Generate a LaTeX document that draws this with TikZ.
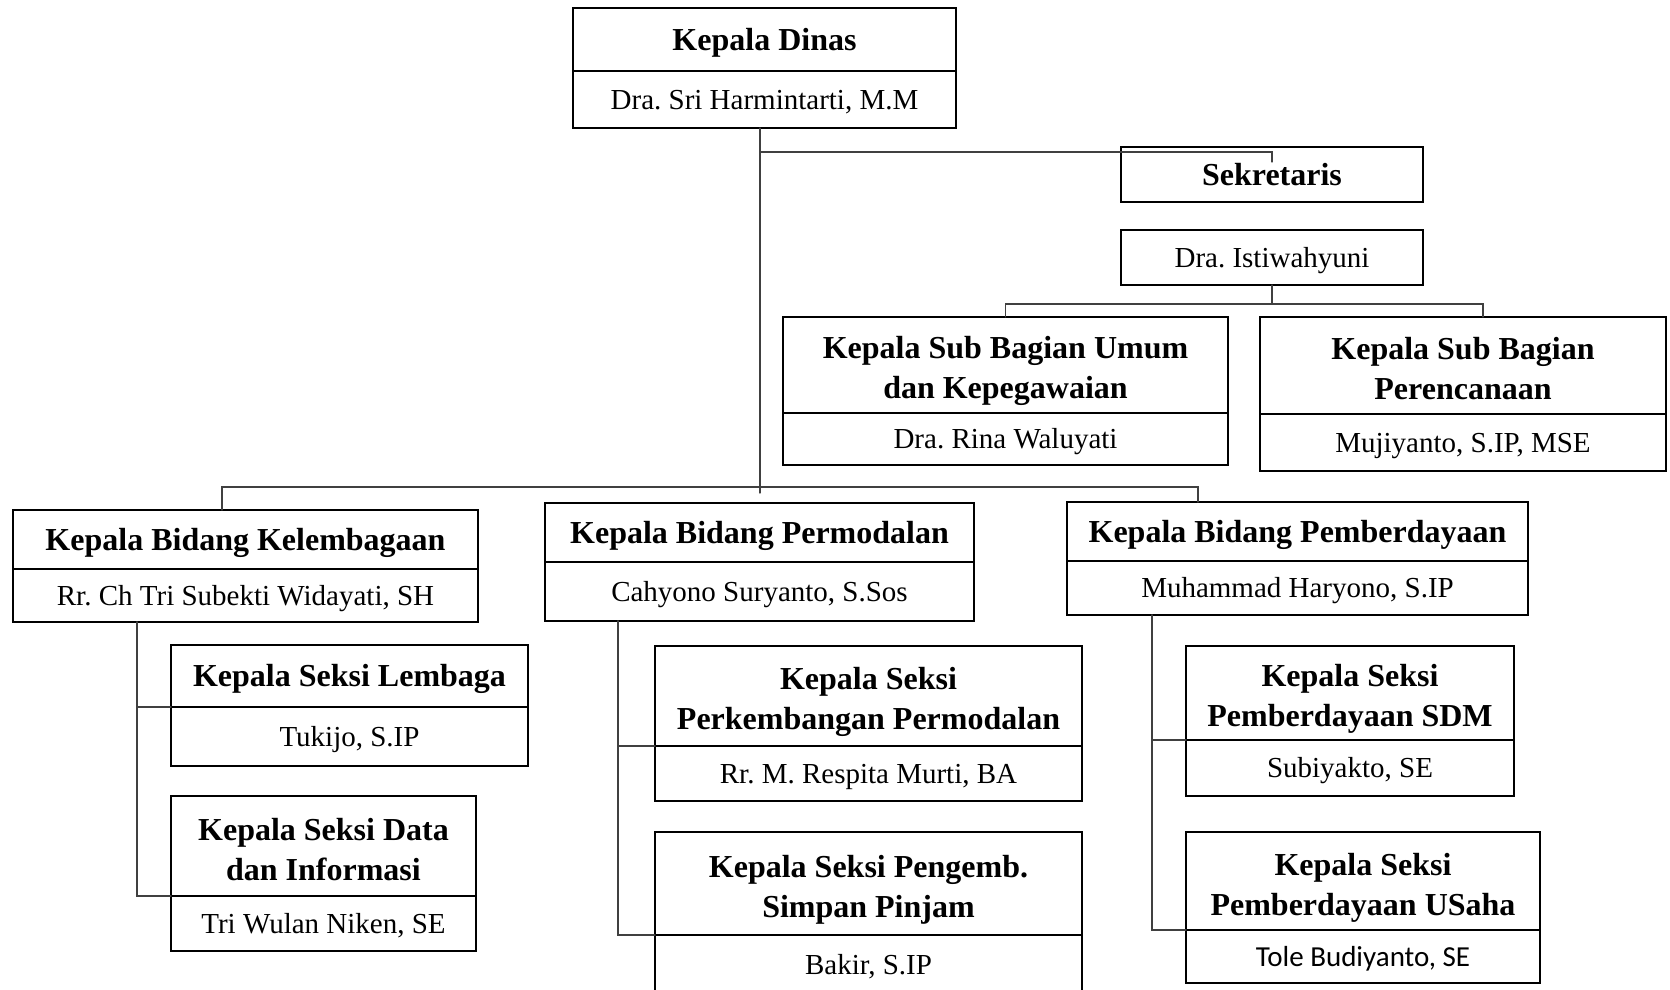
\documentclass[tikz,border=0pt]{standalone}
\usepackage{fontspec}
\usepackage{tikz}
\usetikzlibrary{positioning}
\setmainfont{Liberation Serif}
\newfontfamily\calibri{Carlito}
\def\ukjudul{\fontsize{32}{40}\selectfont\bfseries\frenchspacing}
\def\uknama{\fontsize{29}{35}\selectfont\frenchspacing}
\def\tegak{\vrule width 0pt height 0.891em depth 0pt\relax}
\def\baris{\vrule width 0pt height 1.09em depth 0pt\relax}

\begin{document}
\begin{tikzpicture}[x=1pt, y=-1pt, line cap=round,
    kotak/.style={draw, line width=2.2pt, inner sep=0pt, outer sep=0pt, align=center,
      execute at begin node={\tegak},
      execute at end node={\vrule width 0pt height 0pt depth 0.216em}},
    judul/.style={kotak, font=\ukjudul},
    nama/.style={kotak, font=\uknama},
    garis/.style={line width=1.3pt, black!75}]

    \useasboundingbox (0,0) rectangle (1670,989);

    % pimpinan dan sekretariat
    \node[judul, anchor=north west, minimum width=383, minimum height=63] (dinas) at (573,8) {Kepala Dinas};
    \node[nama, minimum width=383, minimum height=57, below=0pt of dinas] (dinasNama) {Dra. Sri Harmintarti, M.M};

    \node[judul, anchor=north west, minimum width=302, minimum height=55] (sekretaris) at (1121,147) {Sekretaris};
    \node[nama, anchor=north west, minimum width=302, minimum height=55] (sekretarisNama) at (1121,230) {Dra. Istiwahyuni};

    \node[judul, anchor=north west, minimum width=445, minimum height=96] (umum) at (783,317) {\baris Kepala Sub Bagian Umum\\dan Kepegawaian};
    \node[nama, minimum width=445, minimum height=52, below=0pt of umum] (umumNama) {Dra. Rina Waluyati};

    \node[judul, anchor=north west, minimum width=406, minimum height=97] (rencana) at (1260,317) {\baris Kepala Sub Bagian\\Perencanaan};
    \node[nama, minimum width=406, minimum height=57, below=0pt of rencana] (rencanaNama) {Mujiyanto, S.IP, MSE};

    % bidang
    \node[judul, anchor=north west, minimum width=465, minimum height=59] (lembaga) at (13,510) {Kepala Bidang Kelembagaan};
    \node[nama, minimum width=465, minimum height=53, below=0pt of lembaga] (lembagaNama) {Rr. Ch Tri Subekti Widayati, SH};

    \node[judul, anchor=north west, minimum width=429, minimum height=59] (modal) at (545,503) {Kepala Bidang Permodalan};
    \node[nama, minimum width=429, minimum height=59, below=0pt of modal] (modalNama) {Cahyono Suryanto, S.Sos};

    \node[judul, anchor=north west, minimum width=461, minimum height=59] (daya) at (1067,502) {Kepala Bidang Pemberdayaan};
    \node[nama, minimum width=461, minimum height=54, below=0pt of daya] (dayaNama) {Muhammad Haryono, S.IP};

    % seksi
    \node[judul, anchor=north west, minimum width=357, minimum height=62] (sLembaga) at (171,645) {Kepala Seksi Lembaga};
    \node[nama, minimum width=357, minimum height=59, below=0pt of sLembaga] (sLembagaNama) {Tukijo, S.IP};

    \node[judul, anchor=north west, minimum width=305, minimum height=100] (sData) at (171,796) {\baris Kepala Seksi Data\\dan Informasi};
    \node[nama, minimum width=305, minimum height=55, below=0pt of sData] (sDataNama) {Tri Wulan Niken, SE};

    \node[judul, anchor=north west, minimum width=427, minimum height=100] (sKembang) at (655,646) {\baris Kepala Seksi\\Perkembangan Permodalan};
    \node[nama, minimum width=427, minimum height=55, below=0pt of sKembang] (sKembangNama) {Rr. M. Respita Murti, BA};

    \node[judul, anchor=north west, minimum width=427, minimum height=103] (sSimpan) at (655,832) {\baris Kepala Seksi Pengemb.\\Simpan Pinjam};
    \node[nama, minimum width=427, minimum height=60, below=0pt of sSimpan] (sSimpanNama) {Bakir, S.IP};

    \node[judul, anchor=north west, minimum width=328, minimum height=94] (sSDM) at (1186,646) {\baris Kepala Seksi\\Pemberdayaan SDM};
    \node[nama, minimum width=328, minimum height=56, below=0pt of sSDM] (sSDMNama) {Subiyakto, SE};

    \node[judul, anchor=north west, minimum width=354, minimum height=98] (sUsaha) at (1186,832) {\baris Kepala Seksi\\Pemberdayaan USaha};
    \node[nama, minimum width=354, minimum height=53, below=0pt of sUsaha] (sUsahaNama) {\calibri Tole Budiyanto, SE};

    % garis
    \coordinate (tengah) at (760,487);
    \coordinate (cabang) at (1272,304);
    \draw[garis] (dinasNama.south -| tengah) -- ([yshift=-6pt]tengah);
    \draw[garis] ([yshift=-5pt]sekretaris.north -| tengah) -| ([yshift=-15pt]sekretaris.north);
    \draw[garis] (sekretarisNama.south) -- (cabang);
    \draw[garis] (umum.north) |- (cabang) -| ([xshift=20pt]rencana.north);
    \draw[garis] ([xshift=-23.5pt]lembaga.north) |- (tengah) -| ([xshift=-99.5pt]daya.north);

    \draw[garis] ([xshift=-108.5pt]lembagaNama.south) |- (sLembaga.south west);
    \draw[garis] ([xshift=-108.5pt]lembagaNama.south) |- (sData.south west);
    \draw[garis] ([xshift=-141.5pt]modalNama.south) |- (sKembang.south west);
    \draw[garis] ([xshift=-141.5pt]modalNama.south) |- (sSimpan.south west);
    \draw[garis] ([xshift=-145.5pt]dayaNama.south) |- (sSDM.south west);
    \draw[garis] ([xshift=-145.5pt]dayaNama.south) |- (sUsaha.south west);

\end{tikzpicture}
\end{document}
